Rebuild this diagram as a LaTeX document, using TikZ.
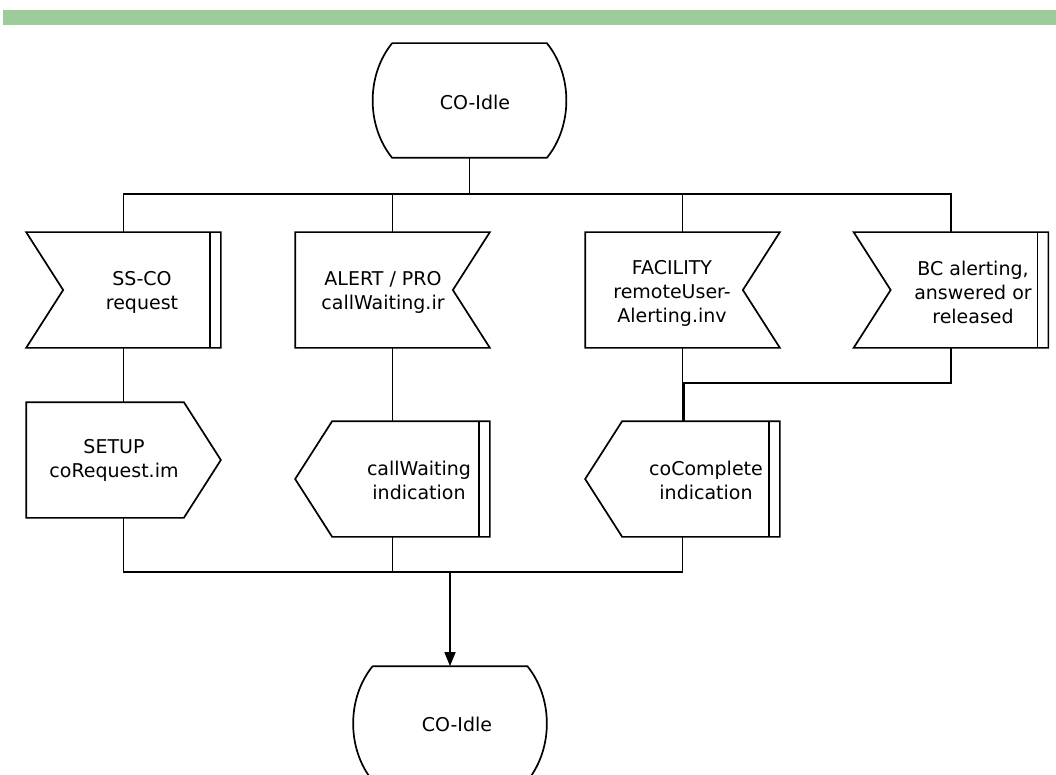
\documentclass[tikz,border=0pt]{standalone}
\usepackage{fontspec}
\setmainfont{DejaVu Sans}
\usetikzlibrary{calc,arrows.meta}

\definecolor{bargreen}{RGB}{155,204,153}

% outlines drawn round the named box nodes
\newcommand{\stateshape}[1]{%
  \draw ($(#1.north west)+(19,0)$) -- ($(#1.north east)+(-19,0)$)
    .. controls ($(#1.north east)+(7,32)$) and ($(#1.south east)+(7,-32)$) .. ($(#1.south east)+(-19,0)$)
    -- ($(#1.south west)+(19,0)$)
    .. controls ($(#1.south west)+(-7,-32)$) and ($(#1.north west)+(-7,32)$) .. ($(#1.north west)+(19,0)$);}
\newcommand{\inleft}[1]{%
  \draw (#1.north west) -- (#1.north east) -- (#1.south east) -- (#1.south west)
    -- ($(#1.west)+(37,0)$) -- cycle;}
\newcommand{\inright}[1]{%
  \draw (#1.north west) -- (#1.north east) -- ($(#1.east)+(-37,0)$)
    -- (#1.south east) -- (#1.south west) -- cycle;}
\newcommand{\outright}[1]{%
  \draw (#1.north west) -- ($(#1.north east)+(-37,0)$) -- (#1.east)
    -- ($(#1.south east)+(-37,0)$) -- (#1.south west) -- cycle;}
\newcommand{\outleft}[1]{%
  \draw (#1.west) -- ($(#1.north west)+(37,0)$) -- (#1.north east)
    -- (#1.south east) -- ($(#1.south west)+(37,0)$) -- cycle;}
\newcommand{\dbar}[1]{%
  \draw ($(#1.north east)+(-11,0)$) -- ($(#1.south east)+(-11,0)$);}

\begin{document}
\begin{tikzpicture}[x=1pt, y=-1pt, line width=1.7pt,
    statebox/.style={inner sep=0, minimum width=191pt, minimum height=113pt},
    sigbox/.style={inner sep=0, minimum width=193pt, minimum height=114pt},
    txt/.style={inner sep=0, align=center, font=\fontsize{19}{24}\selectfont}]
        \useasboundingbox (0,0) rectangle (1056,775);
        \clip (0,0) rectangle (1056,775);

        % Draw green bar
        \fill[bargreen] (3,10) rectangle (1056,25);

        % Draw states
        \node[statebox] (idle1) at (469.5,100.5) {};
        \stateshape{idle1}
        \node[txt] (idle1-t) at (475,102) {CO-Idle};

        \node[statebox] (idle2) at (450,723.5) {};
        \stateshape{idle2}
        \node[txt] (idle2-t) at (457,724) {CO-Idle};

        % Draw input signals
        \node[sigbox] (ssco) at (123.5,290) {};
        \inleft{ssco} \dbar{ssco}
        \node[txt] (ssco-t) at (142,292) {SS-CO\\request};

        \node[sigbox] (alert) at (392.5,290) {};
        \inright{alert}
        \node[txt] (alert-t) at (383,292) {ALERT / PRO\\callWaiting.ir};

        \node[sigbox] (facil) at (682.5,290) {};
        \inright{facil}
        \node[txt] (facil-t) at (672,293) {FACILITY\\remoteUser-\\Alerting.inv};

        \node[sigbox] (bcin) at (951,290) {};
        \inleft{bcin} \dbar{bcin}
        \node[txt] (bcin-t) at (973,292) {BC alerting,\\answered or\\released};

        % Draw output signals
        \node[sigbox] (setup) at (123.5,460) {};
        \outright{setup}
        \node[txt] (setup-t) at (114,460) {SETUP\\coRequest.im};

        \node[sigbox] (cwind) at (392.5,479) {};
        \outleft{cwind} \dbar{cwind}
        \node[txt] (cwind-t) at (419,480) {callWaiting\\indication};

        \node[sigbox] (coind) at (682.5,479) {};
        \outleft{coind} \dbar{coind}
        \node[txt] (coind-t) at (706,480) {coComplete\\indication};

        % Upper branching
        \coordinate (bus1) at (469.5,194);
        \draw (idle1.south) -- (bus1);
        \draw (ssco.north) |- (bus1) -| (bcin.north);
        \draw (alert.north) -- (alert.north |- bus1);
        \draw (facil.north) -- (facil.north |- bus1);

        % Inputs to outputs
        \draw (ssco.south) -- (setup.north);
        \draw (alert.south) -- (cwind.north);
        \draw (facil.south) -- (coind.north);
        \coordinate (join) at (684,383);
        \draw (bcin.south) |- (join) -- (join |- coind.north);

        % Lower merge and arrow to next state
        \coordinate (bus2) at (450,572);
        \draw (setup.south) |- (bus2) -| (coind.south);
        \draw (cwind.south) -- (cwind.south |- bus2);
        \draw[-{Triangle[length=14pt,width=11pt]}] (bus2) -- (idle2.north);
    \end{tikzpicture}
\end{document}
